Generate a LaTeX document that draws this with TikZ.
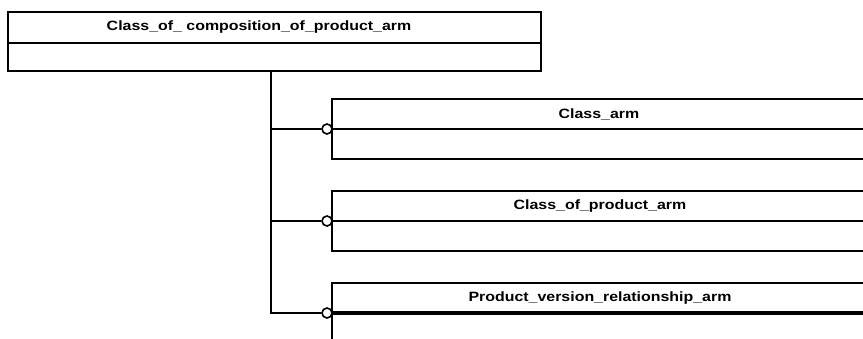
\documentclass[tikz,border=0pt]{standalone}
\usepackage{fontspec}
\setmainfont{Liberation Sans}
\newcommand{\wlbl}[1]{\scalebox{1.18}[1]{#1}}
\begin{document}
\begin{tikzpicture}[x=1pt,y=-1pt,
  box/.style={draw=black,line width=1.8pt,fill=white},
  lbl/.style={font=\bfseries\fontsize{13.5}{14}\selectfont,inner sep=0pt},
  conn/.style={draw=black,line width=1.6pt},
  ring/.style={circle,draw=black,line width=1.6pt,fill=white,minimum size=10pt,inner sep=0pt}]
\useasboundingbox (0,0) rectangle (863,338);
% top entity
\draw[box] (8,12) rectangle (541,71);
\draw[line width=2.2pt] (8,43) -- (541,43);
\node[lbl] (top) at (259,27) {\wlbl{Class\_of\_ composition\_of\_product\_arm}};
\coordinate (topb) at (271,71);
% right entities
\draw[box] (332,99) rectangle (870,159);
\draw[line width=2.2pt] (332,129) -- (870,129);
\node[lbl] (a) at (599,114) {\wlbl{Class\_arm}};
\draw[box] (332,191) rectangle (870,251);
\draw[line width=2.2pt] (332,221) -- (870,221);
\node[lbl] (b) at (600,206) {\wlbl{Class\_of\_product\_arm}};
\draw[box] (332,283) rectangle (870,350);
\draw[line width=3.2pt] (332,313) -- (870,313);
\node[lbl] (c) at (600,298) {\wlbl{Product\_version\_relationship\_arm}};
% rings
\node[ring] (r1) at (327,129) {};
\node[ring] (r2) at (327,221) {};
\node[ring] (r3) at (327,313) {};
\coordinate (j1) at (271,129);
\coordinate (j2) at (271,221);
\coordinate (j3) at (271,313);
\draw[conn] (topb) -- (j3) -- (r3.west);
\draw[conn] (j1) -- (r1.west);
\draw[conn] (j2) -- (r2.west);
\end{tikzpicture}
\end{document}
